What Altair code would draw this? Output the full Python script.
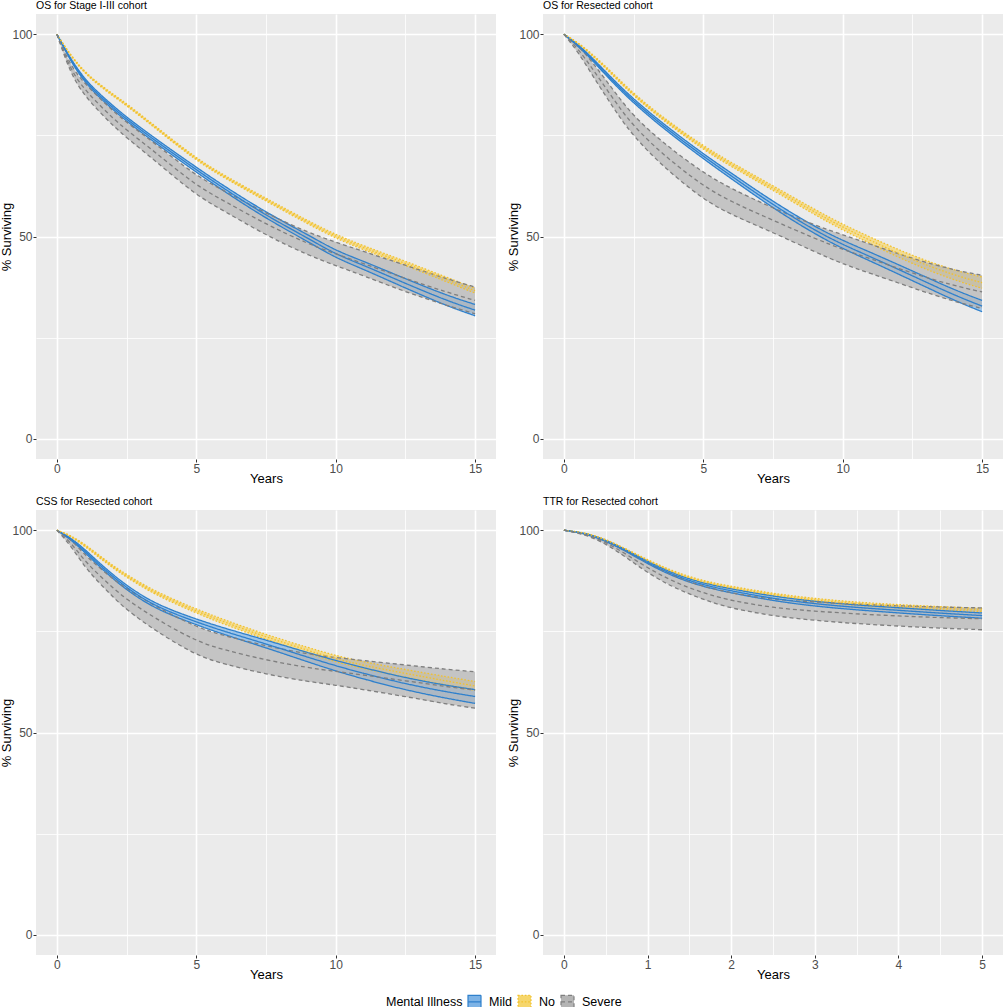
import altair as alt
import numpy as np
import pandas as pd

GROUPS = ["Mild", "No", "Severe"]
LINE_COLORS = ["#2F80CC", "#F2C12E", "#7F7F7F"]
FILL_COLORS = ["#7DB3E6", "#F6D66B", "#B4B4B4"]
DASHES = [[1, 0], [1.6, 1.8], [4, 3]]

# Follow-up times (years)
T15 = [0, 0.5, 1, 1.5, 2, 2.5, 3.5, 5, 6, 7.5, 9, 10, 11, 12.5, 14, 15]
T5 = [0, 0.25, 0.5, 0.75, 1, 1.25, 1.5, 1.75, 2, 2.5, 3, 3.5, 4, 4.5, 5]

# OS, stage I-III cohort: estimate and half-width of the confidence band
os_all_mild = [100, 93.5, 88.5, 85.0, 81.9, 79.0, 73.8, 66.5, 61.8, 55.2, 49.6, 45.6, 42.9, 38.4, 34.1, 31.8]
os_all_mild_ci = [0, 0.3, 0.4, 0.45, 0.5, 0.5, 0.55, 0.6, 0.65, 0.75, 0.85, 0.9, 1.0, 1.15, 1.3, 1.4]
os_all_no = [100, 94.6, 90.5, 87.6, 85.0, 82.6, 77.2, 69.0, 64.8, 59.1, 53.5, 50.0, 47.2, 43.4, 39.3, 36.6]
os_all_no_ci = [0, 0.15, 0.2, 0.2, 0.25, 0.25, 0.25, 0.3, 0.3, 0.35, 0.4, 0.45, 0.5, 0.5, 0.55, 0.6]
os_all_sev = [100, 91.0, 86.3, 82.7, 79.3, 76.3, 71.0, 62.5, 58.8, 53.0, 48.2, 45.7, 43.3, 39.6, 36.2, 34.2]
os_all_sev_ci = [0, 1.0, 1.5, 1.7, 1.8, 1.9, 2.1, 2.4, 2.5, 2.7, 2.8, 2.9, 3.0, 3.3, 3.3, 3.3]

# OS, resected cohort
os_res_mild = [100, 97.3, 94.0, 90.3, 86.8, 83.5, 77.6, 69.8, 65.0, 57.8, 51.5, 48.0, 45.0, 40.3, 35.5, 32.8]
os_res_mild_ci = [0, 0.2, 0.3, 0.4, 0.45, 0.5, 0.55, 0.6, 0.7, 0.8, 0.9, 1.0, 1.1, 1.2, 1.3, 1.4]
os_res_no = [100, 97.9, 95.0, 91.8, 88.4, 85.1, 79.3, 71.9, 67.8, 62.0, 56.0, 52.3, 49.0, 44.2, 40.4, 38.6]
os_res_no_ci = [0, 0.1, 0.2, 0.25, 0.3, 0.3, 0.35, 0.45, 0.5, 0.55, 0.65, 0.7, 0.8, 1.0, 1.2, 1.4]
os_res_sev = [100, 96.5, 91.7, 86.7, 81.8, 77.3, 70.5, 62.4, 58.6, 54.0, 49.5, 46.8, 44.5, 40.9, 37.8, 36.3]
os_res_sev_ci = [0, 0.8, 1.6, 2.0, 2.3, 2.5, 2.9, 3.3, 3.2, 3.0, 3.3, 3.6, 3.6, 3.6, 3.9, 4.1]

# CSS, resected cohort
css_mild = [100, 97.9, 94.9, 91.6, 88.6, 85.8, 81.2, 77.3, 75.0, 71.9, 68.6, 66.5, 64.6, 62.0, 60.0, 58.9]
css_mild_ci = [0, 0.2, 0.4, 0.45, 0.5, 0.55, 0.6, 0.7, 0.8, 0.95, 1.15, 1.3, 1.4, 1.5, 1.6, 1.7]
css_no = [100, 98.6, 96.3, 93.6, 91.0, 88.7, 84.5, 80.0, 77.3, 73.6, 70.3, 68.2, 66.6, 64.6, 62.7, 61.5]
css_no_ci = [0, 0.15, 0.25, 0.3, 0.3, 0.35, 0.4, 0.5, 0.55, 0.6, 0.7, 0.8, 0.85, 0.95, 1.05, 1.1]
css_sev = [100, 97.0, 92.4, 89.0, 85.8, 82.9, 78.3, 72.5, 70.4, 67.9, 66.0, 65.1, 64.2, 62.8, 61.3, 60.5]
css_sev_ci = [0, 0.8, 1.5, 1.9, 2.2, 2.6, 3.0, 3.5, 3.5, 3.5, 3.4, 3.4, 3.6, 3.9, 4.3, 4.5]

# TTR, resected cohort
ttr_mild = [100, 99.3, 97.5, 94.9, 92.0, 89.5, 87.5, 86.1, 85.0, 83.1, 81.8, 80.9, 80.2, 79.5, 78.9]
ttr_mild_ci = [0, 0.05, 0.15, 0.2, 0.3, 0.35, 0.4, 0.45, 0.5, 0.55, 0.6, 0.6, 0.65, 0.65, 0.65]
ttr_no = [100, 99.4, 97.7, 95.2, 92.5, 90.1, 88.2, 86.8, 85.8, 84.0, 82.7, 81.8, 81.2, 80.7, 80.3]
ttr_no_ci = [0, 0.05, 0.1, 0.15, 0.2, 0.25, 0.3, 0.3, 0.35, 0.35, 0.4, 0.4, 0.4, 0.4, 0.4]
ttr_sev = [100, 99.1, 97.1, 94.0, 90.7, 87.9, 85.7, 84.0, 82.6, 80.8, 80.0, 79.3, 78.8, 78.4, 78.1]
ttr_sev_ci = [0, 0.1, 0.4, 0.8, 1.2, 1.4, 1.5, 1.7, 1.9, 2.0, 2.3, 2.4, 2.5, 2.6, 2.7]

FONT = "Liberation Sans"
PANEL_W, PANEL_H = 460, 445

legend = alt.Legend(
    title="Mental Illness", orient="none", legendX=350, legendY=980,
    direction="horizontal", titleOrient="left", titlePadding=4,
    symbolType="M-1,-1H1V1H-1Z M-1,0H1", symbolSize=169, symbolStrokeWidth=1.2,
    labelOffset=7, columnPadding=3, labelFontSize=12.5, titleFontSize=12.5,
    titleFontWeight="normal", labelFont=FONT, titleFont=FONT,
    labelColor="black", titleColor="black",
)


def panel(title, times, series, xmax, major):
    rows = []
    for g, (est, ci) in zip(GROUPS, series):
        for t, e, h in zip(times, est, ci):
            rows.append({"t": t, "group": g, "est": e, "lo": e - h, "hi": e + h})
    df = pd.DataFrame(rows)
    pad = xmax * 0.05
    xvals = [float(v) for v in np.arange(0, xmax + 1e-9, major / 2)]
    x = alt.X(
        "t:Q",
        scale=alt.Scale(domain=[-pad, xmax + pad], nice=False, zero=False),
        axis=alt.Axis(
            values=xvals, title="Years",
            labelExpr=f"datum.value % {major} === 0 ? '' + datum.value : ''",
            tickOpacity={"condition": {"test": f"datum.value % {major} !== 0", "value": 0}, "value": 1},
            gridWidth={"condition": {"test": f"datum.value % {major} !== 0", "value": 0.8}, "value": 1.6},
        ),
    )
    yscale = alt.Scale(domain=[-5, 105], nice=False, zero=False)
    yaxis = alt.Axis(
        values=[0, 25, 50, 75, 100], title="% Surviving",
        labelExpr="datum.value % 50 === 0 ? '' + datum.value : ''",
        tickOpacity={"condition": {"test": "datum.value % 50 !== 0", "value": 0}, "value": 1},
        gridWidth={"condition": {"test": "datum.value % 50 !== 0", "value": 0.8}, "value": 1.6},
    )
    fill = alt.Fill("group:N", scale=alt.Scale(domain=GROUPS, range=FILL_COLORS), legend=legend)
    stroke = alt.Stroke("group:N", scale=alt.Scale(domain=GROUPS, range=LINE_COLORS), legend=legend)
    dash = alt.StrokeDash("group:N", scale=alt.Scale(domain=GROUPS, range=DASHES), legend=legend)

    base = alt.Chart(df)
    band = base.mark_area(fillOpacity=0.7, interpolate="basis").encode(
        x=x, y=alt.Y("lo:Q", scale=yscale, axis=yaxis), y2="hi:Q", fill=fill
    )
    lines = [
        base.mark_line(strokeWidth=1.3, interpolate="basis").encode(
            x=x, y=alt.Y(f"{col}:Q", scale=yscale, axis=yaxis), stroke=stroke, strokeDash=dash,
            detail="group:N",
        )
        for col in ("lo", "hi", "est")
    ]
    return alt.layer(band, *lines).properties(
        width=PANEL_W, height=PANEL_H,
        title=alt.Title(title, anchor="start", frame="group", fontSize=10.5, fontWeight="normal",
                        font=FONT, color="black", offset=3),
    )


p1 = panel("OS for Stage I-III cohort", T15,
           [(os_all_mild, os_all_mild_ci), (os_all_no, os_all_no_ci), (os_all_sev, os_all_sev_ci)], 15, 5)
p2 = panel("OS for Resected cohort", T15,
           [(os_res_mild, os_res_mild_ci), (os_res_no, os_res_no_ci), (os_res_sev, os_res_sev_ci)], 15, 5)
p3 = panel("CSS for Resected cohort", T15,
           [(css_mild, css_mild_ci), (css_no, css_no_ci), (css_sev, css_sev_ci)], 15, 5)
p4 = panel("TTR for Resected cohort", T5,
           [(ttr_mild, ttr_mild_ci), (ttr_no, ttr_no_ci), (ttr_sev, ttr_sev_ci)], 5, 1)

chart = alt.vconcat(
    alt.hconcat(p1, p2, spacing=11),
    alt.hconcat(p3, p4, spacing=11),
    spacing=10,
).properties(padding=0, background="white").configure_view(
    fill="#EBEBEB", stroke=None
).configure_axis(
    domain=False, gridColor="white", tickColor="#333333", tickSize=3, tickWidth=1,
    labelColor="#4D4D4D", labelFontSize=12, labelFont=FONT, labelPadding=1,
    titleFont=FONT, titleFontSize=13, titleFontWeight="normal", titleColor="black", titlePadding=-1.5,
)

chart.save("out.html", embed_options={"renderer": "svg", "actions": False})
